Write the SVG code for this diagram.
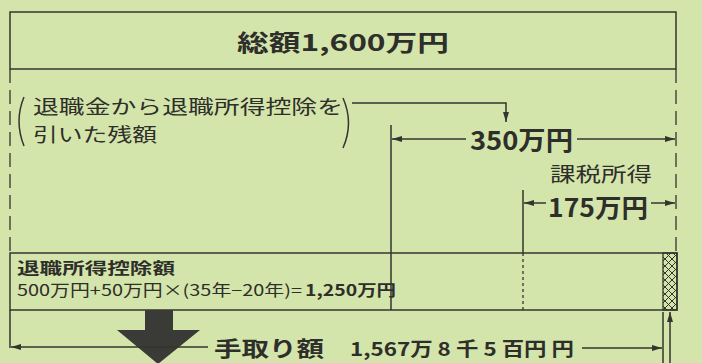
<svg xmlns="http://www.w3.org/2000/svg" width="702" height="363" viewBox="0 0 702 363">
<defs>
<style>
.ln{stroke:#35352f;stroke-width:1.5;fill:none}
.dash{stroke:#35352f;stroke-width:1.3;fill:none;stroke-dasharray:14 7}
.dot{stroke:#35352f;stroke-width:1.3;fill:none;stroke-dasharray:3 3}
.t{font-family:"Noto Sans CJK JP","Noto Sans",sans-serif;fill:#2e2e2a}
.b{font-weight:bold}
</style>
<marker id="ah" viewBox="0 0 10 6" refX="10" refY="3" markerWidth="10" markerHeight="6" markerUnits="userSpaceOnUse" orient="auto">
<path d="M0,0 L10,3 L0,6 Z" fill="#35352f"/>
</marker>
<pattern id="hatch" width="7" height="7" patternUnits="userSpaceOnUse">
<path d="M0,0 L7,7 M7,0 L0,7" stroke="#35352f" stroke-width="1"/>
</pattern>
</defs>
<rect width="702" height="363" fill="#d4e5ab"/>

<g id="total">
<rect x="10" y="12" width="666" height="57" class="ln"/>
<text x="237" y="51" class="t b" font-size="23" textLength="212" lengthAdjust="spacingAndGlyphs">総額1,600万円</text>
</g>

<g id="remainder-note">
<path d="M24,97 Q14,121 24,146" class="ln" stroke-width="2"/>
<path d="M343,98 Q354,123 343,148" class="ln" stroke-width="2"/>
<text x="33" y="114" class="t" font-size="19" textLength="310" lengthAdjust="spacingAndGlyphs">退職金から退職所得控除を</text>
<text x="33" y="142" class="t" font-size="19" textLength="124" lengthAdjust="spacingAndGlyphs">引いた残額</text>
</g>

<g id="amount-350">
<text x="470" y="150" class="t b" font-size="26" textLength="103" lengthAdjust="spacingAndGlyphs">350万円</text>
</g>

<g id="taxable">
<text x="550" y="182" class="t" font-size="20" textLength="102" lengthAdjust="spacingAndGlyphs">課税所得</text>
<text x="548" y="217" class="t b" font-size="25" textLength="100" lengthAdjust="spacingAndGlyphs">175万円</text>
</g>

<g id="deduction">
<rect x="10" y="253" width="667" height="57" class="ln"/>
<rect x="663" y="253" width="14" height="57" style="fill:url(#hatch);stroke:#35352f;stroke-width:1.3"/>
<text x="17" y="274" class="t b" font-size="15.5" textLength="158" lengthAdjust="spacingAndGlyphs">退職所得控除額</text>
<text x="17" y="296" class="t" font-size="15.5" textLength="285" lengthAdjust="spacingAndGlyphs">500万円+50万円×(35年−20年)=</text>
<text x="305" y="296" class="t b" font-size="15.5" textLength="91" lengthAdjust="spacingAndGlyphs">1,250万円</text>
</g>

<g id="take-home">
<path d="M145,310 L173,310 L173,330 L200,330 L158,364 L117,330 L145,330 Z" fill="#3a3a36"/>
<text x="214" y="356" class="t b" font-size="21" textLength="110" lengthAdjust="spacingAndGlyphs">手取り額</text>
<text x="350" y="356" class="t b" font-size="19" textLength="224" lengthAdjust="spacingAndGlyphs">1,567万 8 千 5 百円 円</text>
</g>

<g id="connectors">
<line x1="10" y1="69" x2="10" y2="253" class="dash"/>
<line x1="10" y1="310" x2="10" y2="348" class="ln" stroke-width="1.2"/>
<line x1="676" y1="69" x2="676" y2="253" class="dash"/>
<path d="M352,103 L506,103 L506,122" class="ln" marker-end="url(#ah)"/>
<line x1="391" y1="125" x2="391" y2="310" class="ln" stroke-width="1.2"/>
<line x1="466" y1="139" x2="392" y2="139" class="ln" marker-end="url(#ah)"/>
<line x1="577" y1="139" x2="675" y2="139" class="ln" marker-end="url(#ah)"/>
<line x1="523" y1="190" x2="523" y2="253" class="ln" stroke-width="1.2"/>
<line x1="523" y1="253" x2="523" y2="310" class="dot"/>
<line x1="546" y1="203" x2="524" y2="203" class="ln" marker-end="url(#ah)"/>
<line x1="651" y1="203" x2="675" y2="203" class="ln" marker-end="url(#ah)"/>
<line x1="208" y1="347" x2="11" y2="347" class="ln" marker-end="url(#ah)"/>
<line x1="582" y1="348" x2="662" y2="348" class="ln" marker-end="url(#ah)"/>
<line x1="663" y1="312" x2="663" y2="363" class="ln" stroke-width="1.2"/>
<line x1="670" y1="363" x2="670" y2="312" class="ln" marker-end="url(#ah)"/>
</g>
</svg>
